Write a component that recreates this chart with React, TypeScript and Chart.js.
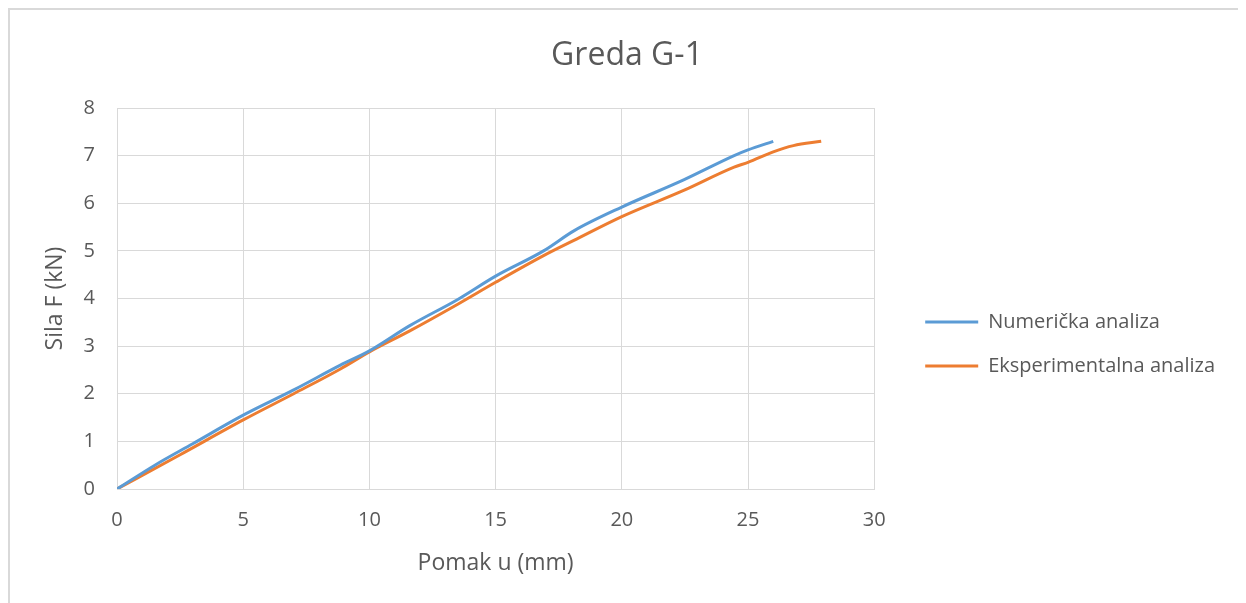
import React, { useEffect, useRef } from "react";
import { Chart, registerables } from "chart.js";

Chart.register(...registerables);

const titleText = "Greda G-1";
const xAxisTitle = "Pomak u (mm)";
const yAxisTitle = "Sila F (kN)";
const seriesNames = ["Numerička analiza", "Eksperimentalna analiza"];

const numX = [0, 1.5, 3, 5, 7, 8.85, 10, 11.6, 13.5, 15, 16.9, 18.1, 20, 22.45, 24.45, 25, 26];
const numY = [0, 0.5, 0.95, 1.55, 2.08, 2.6, 2.9, 3.43, 3.98, 4.47, 5.0, 5.42, 5.92, 6.49, 7.0, 7.12, 7.3];

const expX = [0, 2.5, 5, 7, 8.85, 10, 11.6, 13.5, 15, 16.9, 18.1, 20, 22.45, 24.45, 25, 26, 26.8, 27.9];
const expY = [0, 0.72, 1.45, 2.0, 2.52, 2.88, 3.32, 3.88, 4.34, 4.9, 5.22, 5.72, 6.27, 6.76, 6.86, 7.08, 7.21, 7.3];

const xTicks = [0, 5, 10, 15, 20, 25, 30];
const yTicks = [0, 1, 2, 3, 4, 5, 6, 7, 8];

const FONT = "'Open Sans', sans-serif";
const TEXT = "#595959";
const GRID = "#d9d9d9";

export default function App() {
  const ref = useRef<HTMLCanvasElement | null>(null);

  useEffect(() => {
    document.documentElement.style.overflow = "hidden";
    document.body.style.overflow = "hidden";
    Chart.defaults.font.family = FONT;
    const ctx = ref.current!;
    const chart = new Chart(ctx, {
      type: "scatter",
      data: {
        datasets: [
          {
            label: seriesNames[0],
            data: numX.map((x, i) => ({ x, y: numY[i] })),
            borderColor: "#5B9BD5",
            backgroundColor: "#5B9BD5",
            borderWidth: 3,
            showLine: true,
            pointRadius: 0,
            cubicInterpolationMode: "monotone",
            pointStyle: "line",
          },
          {
            label: seriesNames[1],
            data: expX.map((x, i) => ({ x, y: expY[i] })),
            borderColor: "#ED7D31",
            backgroundColor: "#ED7D31",
            borderWidth: 3,
            showLine: true,
            pointRadius: 0,
            cubicInterpolationMode: "monotone",
            pointStyle: "line",
          },
        ],
      },
      options: {
        animation: false,
        responsive: true,
        maintainAspectRatio: false,
        layout: { padding: { top: 0, left: 19, right: 21, bottom: 0 } },
        plugins: {
          tooltip: { enabled: false },
          title: {
            display: true,
            text: titleText,
            color: TEXT,
            font: { size: 32, weight: "normal", family: FONT },
            padding: { top: 26.8, bottom: 32.8 },
          },
          legend: {
            display: true,
            position: "right",
            align: "center",
            maxWidth: 420,
            title: { display: true, text: " ", padding: { top: 54, bottom: 0 }, font: { size: 20 } },
            labels: {
              usePointStyle: true,
              pointStyleWidth: 53,
              boxHeight: 20,
              color: TEXT,
              font: { size: 20, family: FONT },
              padding: 24,
            },
          },
        },
        scales: {
          x: {
            type: "linear",
            min: 0,
            max: 30,
            afterBuildTicks: (s: any) => {
              s.ticks = xTicks.map((v) => ({ value: v }));
            },
            grid: { color: GRID, drawTicks: false, lineWidth: 1 },
            border: { color: GRID, width: 1 },
            ticks: { color: TEXT, font: { size: 20, family: FONT }, padding: 19 },
            title: {
              display: true,
              text: xAxisTitle,
              color: TEXT,
              font: { size: 23, family: FONT },
              padding: { top: -1.8, bottom: 23.2 },
            },
          },
          y: {
            type: "linear",
            min: 0,
            max: 8,
            afterBuildTicks: (s: any) => {
              s.ticks = yTicks.map((v) => ({ value: v }));
            },
            grid: { color: GRID, drawTicks: false, lineWidth: 1 },
            border: { color: GRID, width: 1 },
            ticks: { color: TEXT, font: { size: 20, family: FONT }, padding: 22 },
            title: {
              display: true,
              text: yAxisTitle,
              color: TEXT,
              font: { size: 23, family: FONT },
              padding: { top: 12.2, bottom: -7.2 },
            },
          },
          pad: {
            type: "linear",
            position: "right",
            display: true,
            grid: { display: false, drawTicks: false },
            border: { display: false },
            ticks: { display: false },
            afterFit: (s: any) => {
              s.width = 27;
            },
          },
        },
      },
    } as any);
    return () => chart.destroy();
  }, []);

  return (
    <div
      style={{
        width: 1300,
        height: 640,
        border: "2px solid #d9d9d9",
        boxSizing: "border-box",
        background: "#fff",
      }}
    >
      <div style={{ position: "relative", width: 1236, height: 590 }}>
        <canvas ref={ref} />
      </div>
    </div>
  );
}
